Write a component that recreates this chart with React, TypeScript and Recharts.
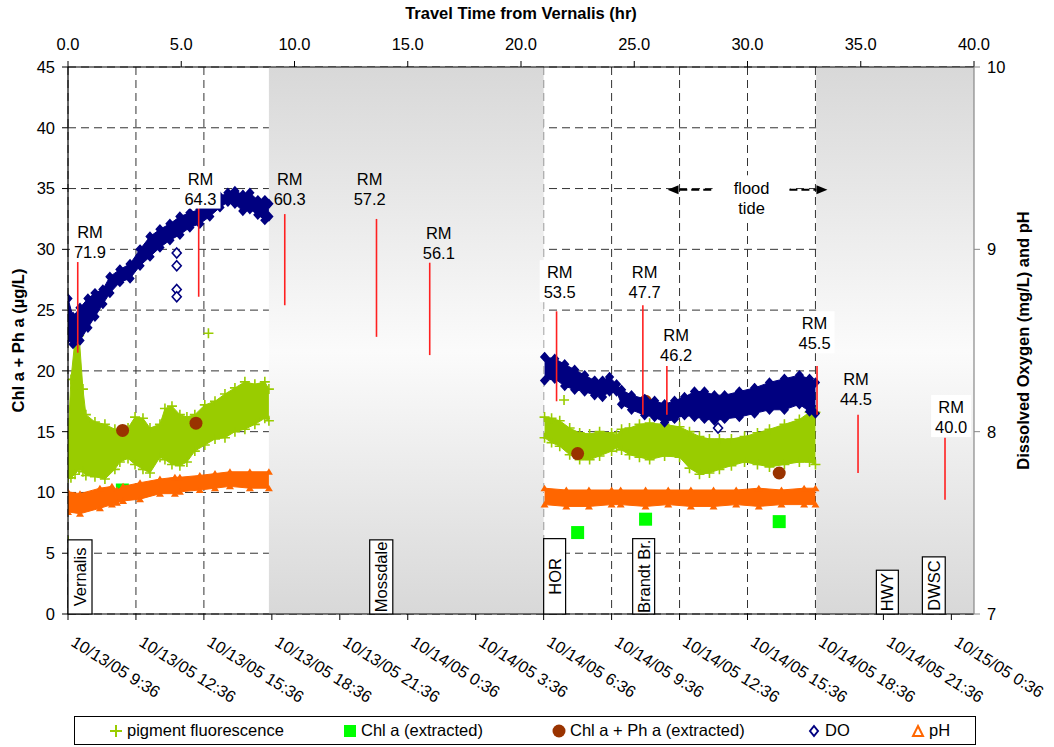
import React from 'react';
import {
  ComposedChart,
  Area,
  Scatter,
  XAxis,
  YAxis,
  CartesianGrid,
  ReferenceArea,
  ReferenceLine,
  ReferenceDot,
} from 'recharts';

// bottom axis: hours after 10/13/05 9:36, top axis: travel time from Vernalis (hr)
const dateLabels = [
  '10/13/05 9:36', '10/13/05 12:36', '10/13/05 15:36', '10/13/05 18:36', '10/13/05 21:36',
  '10/14/05 0:36', '10/14/05 3:36', '10/14/05 6:36', '10/14/05 9:36', '10/14/05 12:36',
  '10/14/05 15:36', '10/14/05 18:36', '10/14/05 21:36', '10/15/05 0:36',
];
const timeTicks = [0, 3, 6, 9, 12, 15, 18, 21, 24, 27, 30, 33, 36, 39];
const travelTicks = [0, 5, 10, 15, 20, 25, 30, 35, 40];
const chlTicks = [0, 5, 10, 15, 20, 25, 30, 35, 40, 45];
const doTicks = [7, 8, 9, 10];

// pigment fluorescence band [hr, low, high] (ug/L)
const fluorRun1 = [
  [0, 11.2, 14.4], [0.13, 11.2, 19.3], [0.31, 11.5, 22.6], [0.49, 11.9, 22.9], [0.66, 11.7, 18.5],
  [0.79, 11.4, 16.4], [1.19, 11.3, 15.8], [1.63, 11.1, 15.6], [2.07, 11.9, 15.2], [2.29, 12.5, 15.0],
  [2.65, 12.8, 15.3], [2.96, 12.3, 16.2], [3.31, 11.9, 16.1], [3.62, 11.6, 15.3], [4.06, 12.9, 15.6],
  [4.28, 12.7, 16.9], [4.59, 12.3, 17.1], [4.94, 12.2, 16.4], [5.25, 12.5, 16.2], [5.6, 13.4, 16.4],
  [6.04, 13.9, 17.2], [6.49, 14.4, 17.5], [6.93, 14.5, 18.1], [7.37, 15.0, 18.6], [7.81, 15.2, 19.1],
  [8.25, 15.6, 18.9], [8.69, 16.1, 19.1], [8.87, 15.9, 18.5],
];
const fluorRun2 = [
  [21.04, 14.5, 16.2], [21.35, 14.1, 16.1], [21.71, 13.8, 15.9], [22.15, 13.1, 15.3], [22.59, 12.7, 14.9],
  [23.03, 12.7, 14.8], [23.47, 13.0, 15.0], [24.0, 13.4, 14.9], [24.22, 13.7, 14.7], [24.44, 13.5, 15.2],
  [24.79, 13.1, 15.3], [25.23, 12.9, 15.6], [25.68, 12.7, 15.7], [26.34, 13.0, 15.6], [27.0, 12.9, 15.4],
  [27.44, 12.0, 15.0], [27.88, 11.5, 14.6], [28.32, 11.6, 14.4], [28.76, 11.9, 14.4], [29.29, 12.2, 14.4],
  [29.87, 12.5, 14.6], [30.44, 12.3, 14.9], [30.97, 12.1, 15.2], [31.63, 12.3, 15.6], [32.29, 12.5, 16.0],
  [32.74, 12.5, 16.6], [33.0, 12.3, 16.6],
];
const fluorStray = [[0, 6.0], [0.45, 23.3], [6.2, 23.1], [21.9, 17.6]];

// extracted samples [hr, ug/L]
const chlA = [[2.4, 10.2], [22.5, 6.7], [25.5, 7.8], [31.4, 7.6]];
const chlPhA = [[2.41, 15.1], [5.65, 15.7], [22.5, 13.2], [25.5, 17.5], [31.4, 11.6]];

// dissolved oxygen band [hr, low, high] (mg/L)
const doRun1 = [
  [0, 8.51, 8.73], [0.22, 8.48, 8.63], [0.53, 8.5, 8.68], [0.88, 8.57, 8.73], [1.19, 8.63, 8.76],
  [1.54, 8.7, 8.78], [1.85, 8.76, 8.85], [2.29, 8.82, 8.89], [2.74, 8.84, 8.92], [3.18, 8.91, 9.0],
  [3.62, 8.96, 9.07], [4.06, 9.01, 9.11], [4.5, 9.05, 9.14], [4.94, 9.08, 9.18], [5.38, 9.12, 9.2],
  [5.82, 9.14, 9.22], [6.26, 9.18, 9.27], [6.71, 9.23, 9.29], [7.06, 9.26, 9.31], [7.37, 9.25, 9.32],
  [7.72, 9.21, 9.3], [8.03, 9.22, 9.31], [8.38, 9.19, 9.27], [8.69, 9.16, 9.27], [8.87, 9.18, 9.25],
];
const doRun2 = [
  [21.04, 8.28, 8.41], [21.49, 8.29, 8.4], [21.93, 8.25, 8.37], [22.37, 8.23, 8.34], [22.81, 8.22, 8.31],
  [23.25, 8.2, 8.28], [23.6, 8.19, 8.28], [23.91, 8.22, 8.3], [24.22, 8.22, 8.26], [24.44, 8.15, 8.23],
  [24.88, 8.12, 8.2], [25.46, 8.09, 8.18], [25.9, 8.08, 8.17], [26.34, 8.05, 8.15], [26.78, 8.07, 8.17],
  [27.22, 8.09, 8.19], [27.66, 8.08, 8.22], [28.1, 8.07, 8.22], [28.54, 8.06, 8.2], [28.99, 8.07, 8.2],
  [29.64, 8.08, 8.22], [30.31, 8.1, 8.24], [30.97, 8.12, 8.27], [31.63, 8.12, 8.29], [32.29, 8.15, 8.31],
  [32.74, 8.11, 8.29], [33.0, 8.1, 8.27],
];
const doStray = [[4.8, 8.98], [4.8, 8.91], [4.8, 8.78], [4.8, 8.74], [28.7, 8.02]];

// pH band [hr, low, high]
const phRun1 = [
  [0, 7.56, 7.67], [0.53, 7.55, 7.66], [1.41, 7.58, 7.69], [1.94, 7.6, 7.7], [2.16, 7.61, 7.68],
  [2.43, 7.62, 7.7], [3.18, 7.63, 7.72], [4.06, 7.66, 7.74], [4.72, 7.66, 7.75], [4.94, 7.67, 7.75],
  [5.82, 7.68, 7.76], [6.49, 7.69, 7.77], [7.15, 7.7, 7.78], [8.03, 7.69, 7.78], [8.87, 7.69, 7.78],
];
const phRun2 = [
  [21.04, 7.6, 7.69], [22.0, 7.59, 7.68], [23.0, 7.59, 7.68], [24.0, 7.6, 7.68], [24.4, 7.6, 7.68],
  [25.5, 7.59, 7.68], [26.5, 7.6, 7.68], [27.5, 7.59, 7.68], [28.5, 7.59, 7.68], [29.5, 7.6, 7.68],
  [30.5, 7.59, 7.69], [31.5, 7.6, 7.68], [32.5, 7.6, 7.69], [33.0, 7.6, 7.69],
];

// shaded stretches of the run (hr)
const shaded = [[8.87, 21.0], [33.03, 40]];

// station boxes along the bottom
const sites = [
  { name: 'Vernalis', from: 0, to: 1.06, top: 6.1 },
  { name: 'Mossdale', from: 13.32, to: 14.34, top: 6.1 },
  { name: 'HOR', from: 21.0, to: 21.97, top: 6.2 },
  { name: 'Brandt Br.', from: 24.93, to: 25.9, top: 6.2 },
  { name: 'HWY', from: 35.69, to: 36.66, top: 3.6 },
  { name: 'DWSC', from: 37.72, to: 38.73, top: 4.7 },
];

// river mile markers
const rmMarks = [
  { rm: '71.9', hr: 0.43, top: 29.0, bottom: 21.5, lx: 0.97, ly: 30.6, box: true },
  { rm: '64.3', hr: 5.77, top: 33.7, bottom: 26.1, lx: 5.85, ly: 35.0, box: true },
  { rm: '60.3', hr: 9.57, top: 32.9, bottom: 25.4, lx: 9.79, ly: 35.0, box: false },
  { rm: '57.2', hr: 13.62, top: 32.5, bottom: 22.8, lx: 13.32, ly: 35.0, box: false },
  { rm: '56.1', hr: 15.97, top: 28.9, bottom: 21.3, lx: 16.37, ly: 30.5, box: false },
  { rm: '53.5', hr: 21.57, top: 24.9, bottom: 17.5, lx: 21.71, ly: 27.3, box: true },
  { rm: '47.7', hr: 25.38, top: 25.4, bottom: 16.4, lx: 25.46, ly: 27.3, box: true },
  { rm: '46.2', hr: 26.44, top: 20.4, bottom: 16.4, lx: 26.85, ly: 22.1, box: true },
  { rm: '45.5', hr: 33.07, top: 20.4, bottom: 16.4, lx: 32.96, ly: 23.1, box: true },
  { rm: '44.5', hr: 34.88, top: 16.4, bottom: 11.6, lx: 34.79, ly: 18.5, box: false },
  { rm: '40.0', hr: 38.72, top: 14.5, bottom: 9.4, lx: 38.99, ly: 16.2, box: true },
];

// flood tide arrows [from hr, to hr] at left-axis level
const floodArrows = [[28.4, 26.47], [31.85, 33.53]];
const floodLevel = 34.9;
const floodLabel = { hr: 30.18, y: 34.2 };

const GREEN = '#99CC00';
const LIME = '#00FF00';
const BROWN = '#993300';
const NAVY = '#000080';
const ORANGE = '#FF6600';
const RED = '#FF2020';
const FONT = '"Liberation Sans", Arial, sans-serif';
const FS = 16.5;

const toBand = (rows: number[][]) => rows.map(([hr, lo, hi]) => ({ hr, v: [lo, hi] }));
const toPts = (rows: number[][]) => rows.map(([hr, v]) => ({ hr, v }));
const edges = (rows: number[][]) => rows.flatMap(([hr, lo, hi]) => [{ hr, v: lo }, { hr, v: hi }]);

const Cross = (p: any) => (
  <path d={`M${p.cx - 5},${p.cy}h10M${p.cx},${p.cy - 5}v10`} stroke={GREEN} strokeWidth={1.6} />
);
const Diamond = (fill: string, s: number) => (p: any) => (
  <path
    d={`M${p.cx},${p.cy - s}L${p.cx + s * 0.9},${p.cy}L${p.cx},${p.cy + s}L${p.cx - s * 0.9},${p.cy}Z`}
    fill={fill}
    stroke={NAVY}
    strokeWidth={1.6}
  />
);
const Tri = (p: any) => (
  <path d={`M${p.cx},${p.cy - 3.5}L${p.cx + 4},${p.cy + 3}L${p.cx - 4},${p.cy + 3}Z`} fill={ORANGE} />
);
const Square = (p: any) => <rect x={p.cx - 6.5} y={p.cy - 6.5} width={13} height={13} fill={LIME} />;
const Dot = (p: any) => <circle cx={p.cx} cy={p.cy} r={6.5} fill={BROWN} />;

const TimeTick = (props: any) => {
  const { x, y, payload } = props;
  const label = dateLabels[Math.round(payload.value / 3)] ?? '';
  const tx = x + 2;
  const ty = y + 23;
  return (
    <text x={tx} y={ty} transform={`rotate(32 ${tx} ${ty})`} fontSize={FS} fill="#000" textAnchor="start">
      {label}
    </text>
  );
};

const rmLabel = (m: typeof rmMarks[number]) => (p: any) => (
  <g>
    {m.box && <rect x={p.cx - 20} y={p.cy - 22} width={40} height={42} fill="#fff" />}
    <text x={p.cx} y={p.cy - 4} textAnchor="middle" fontSize={FS} fill="#000">RM</text>
    <text x={p.cx} y={p.cy + 16} textAnchor="middle" fontSize={FS} fill="#000">{m.rm}</text>
  </g>
);

const arrowShape = (p: any) => {
  const { x1, y1, x2, y2 } = p;
  const dir = x2 > x1 ? 1 : -1;
  const base = x2 - dir * 11;
  return (
    <g>
      <line x1={x1} y1={y1} x2={base} y2={y2} stroke="#000" strokeWidth={2} strokeDasharray="8 4" />
      <path d={`M${x2},${y2}L${base},${y2 - 4.5}L${base},${y2 + 4.5}Z`} fill="#000" />
    </g>
  );
};

const siteShape = (name: string) => (p: any) => {
  const cx = p.x + p.width / 2;
  const cy = p.y + p.height / 2;
  return (
    <g>
      <rect x={p.x} y={p.y} width={p.width} height={p.height} fill="#fff" stroke="#000" strokeWidth={1.2} />
      <text
        x={cx}
        y={cy}
        transform={`rotate(-90 ${cx} ${cy})`}
        textAnchor="middle"
        dominantBaseline="central"
        fontSize={FS}
        fill="#000"
      >
        {name}
      </text>
    </g>
  );
};

const legendItems = [
  { label: 'pigment fluorescence', left: 34, icon: <path d="M1,7h12M7,1v12" stroke={GREEN} strokeWidth={2} /> },
  { label: 'Chl a (extracted)', left: 268, icon: <rect x={1} y={1} width={12} height={12} fill={LIME} /> },
  { label: 'Chl a + Ph a (extracted)', left: 477, icon: <circle cx={7} cy={7} r={6.5} fill={BROWN} /> },
  { label: 'DO', left: 732, icon: <path d="M7,2L11,7L7,12L3,7Z" fill="#fff" stroke={NAVY} strokeWidth={2} /> },
  { label: 'pH', left: 836, icon: <path d="M7,2L12,12L2,12Z" fill="#fff" stroke={ORANGE} strokeWidth={2} /> },
];

export default function App() {
  return (
    <div style={{ position: 'absolute', left: 0, top: 0, width: 1054, height: 747, background: '#fff', fontFamily: FONT }}>
      <ComposedChart width={1054} height={747} margin={{ top: 27, right: 0, bottom: 0, left: 0 }}>
        <defs>
          <linearGradient id="shadeGrad" x1="0" y1="0" x2="0" y2="1">
            <stop offset="0" stopColor="#d8d8d8" />
            <stop offset="0.52" stopColor="#fbfbfb" />
            <stop offset="1" stopColor="#d8d8d8" />
          </linearGradient>
        </defs>
        <CartesianGrid
          xAxisId="bottom"
          yAxisId="left"
          stroke="#333"
          strokeDasharray="8 5"
          verticalValues={timeTicks}
          horizontalValues={chlTicks}
        />
        {shaded.map(([a, b]) => (
          <ReferenceArea
            key={`shade-${a}`}
            xAxisId="bottom"
            yAxisId="left"
            x1={a}
            x2={b}
            y1={0}
            y2={45}
            fill="url(#shadeGrad)"
            fillOpacity={1}
            stroke="none"
            zIndex={-50}
          />
        ))}

        <Area xAxisId="bottom" yAxisId="left" data={toBand(fluorRun1)} dataKey="v" type="linear" stroke={GREEN} fill={GREEN} fillOpacity={1} dot={false} activeDot={false} isAnimationActive={false} zIndex={101} />
        <Area xAxisId="bottom" yAxisId="left" data={toBand(fluorRun2)} dataKey="v" type="linear" stroke={GREEN} fill={GREEN} fillOpacity={1} dot={false} activeDot={false} isAnimationActive={false} zIndex={101} />
        <Scatter xAxisId="bottom" yAxisId="left" data={[...edges(fluorRun1), ...edges(fluorRun2), ...toPts(fluorStray)]} dataKey="v" shape={Cross} isAnimationActive={false} zIndex={102} />
        <Scatter xAxisId="bottom" yAxisId="left" data={toPts(chlA)} dataKey="v" shape={Square} isAnimationActive={false} zIndex={103} />
        <Scatter xAxisId="bottom" yAxisId="left" data={toPts(chlPhA)} dataKey="v" shape={Dot} isAnimationActive={false} zIndex={104} />

        <Area xAxisId="bottom" yAxisId="right" data={toBand(doRun1)} dataKey="v" type="linear" stroke={NAVY} fill={NAVY} fillOpacity={1} dot={false} activeDot={false} isAnimationActive={false} zIndex={105} />
        <Area xAxisId="bottom" yAxisId="right" data={toBand(doRun2)} dataKey="v" type="linear" stroke={NAVY} fill={NAVY} fillOpacity={1} dot={false} activeDot={false} isAnimationActive={false} zIndex={105} />
        <Scatter xAxisId="bottom" yAxisId="right" data={[...edges(doRun1), ...edges(doRun2)]} dataKey="v" shape={Diamond(NAVY, 4)} isAnimationActive={false} zIndex={106} />
        <Scatter xAxisId="bottom" yAxisId="right" data={toPts(doStray)} dataKey="v" shape={Diamond('#fff', 5)} isAnimationActive={false} zIndex={106} />

        <Area xAxisId="bottom" yAxisId="right" data={toBand(phRun1)} dataKey="v" type="linear" stroke={ORANGE} fill={ORANGE} fillOpacity={1} dot={false} activeDot={false} isAnimationActive={false} zIndex={107} />
        <Area xAxisId="bottom" yAxisId="right" data={toBand(phRun2)} dataKey="v" type="linear" stroke={ORANGE} fill={ORANGE} fillOpacity={1} dot={false} activeDot={false} isAnimationActive={false} zIndex={107} />
        <Scatter xAxisId="bottom" yAxisId="right" data={[...edges(phRun1), ...edges(phRun2)]} dataKey="v" shape={Tri} isAnimationActive={false} zIndex={108} />

        {rmMarks.map((m) => (
          <ReferenceLine
            key={`rml-${m.rm}`}
            xAxisId="bottom"
            yAxisId="left"
            segment={[{ x: m.hr, y: m.top }, { x: m.hr, y: m.bottom }]}
            stroke={RED}
            strokeWidth={1.6}
            zIndex={1100}
          />
        ))}
        {rmMarks.map((m) => (
          <ReferenceDot
            key={`rmt-${m.rm}`}
            xAxisId="bottom"
            yAxisId="left"
            x={m.lx}
            y={m.ly}
            r={1}
            shape={rmLabel(m)}
            zIndex={1101}
          />
        ))}

        <ReferenceDot
          xAxisId="bottom"
          yAxisId="left"
          x={floodLabel.hr}
          y={floodLabel.y}
          r={1}
          zIndex={1102}
          shape={(p: any) => (
            <g>
              <rect x={p.cx - 39} y={p.cy - 23} width={78} height={46} fill="#fff" />
              <text x={p.cx} y={p.cy - 4} textAnchor="middle" fontSize={FS} fill="#000">flood</text>
              <text x={p.cx} y={p.cy + 16} textAnchor="middle" fontSize={FS} fill="#000">tide</text>
            </g>
          )}
        />
        {floodArrows.map(([a, b]) => (
          <ReferenceLine
            key={`flood-${a}`}
            xAxisId="bottom"
            yAxisId="left"
            segment={[{ x: a, y: floodLevel }, { x: b, y: floodLevel }]}
            shape={arrowShape}
            zIndex={1103}
          />
        ))}

        {sites.map((s) => (
          <ReferenceArea
            key={s.name}
            xAxisId="bottom"
            yAxisId="left"
            x1={s.from}
            x2={s.to}
            y1={0}
            y2={s.top}
            shape={siteShape(s.name)}
            zIndex={1104}
          />
        ))}

        <XAxis
          xAxisId="top"
          orientation="top"
          type="number"
          dataKey="hr"
          domain={[0, 40]}
          allowDataOverflow
          ticks={travelTicks}
          interval={0}
          height={40}
          tickFormatter={(v: number) => v.toFixed(1)}
          tick={{ fontSize: FS, fill: '#000' }}
          tickSize={6}
          tickMargin={11}
          axisLine={{ stroke: '#000', strokeWidth: 1.2 }}
          tickLine={{ stroke: '#000' }}
          label={(p: any) => {
            const vb = p.viewBox || { x: 68, y: 27, width: 906 };
            return (
              <text x={vb.x + vb.width / 2} y={vb.y - 8} textAnchor="middle" fontSize={FS} fontWeight="bold" fill="#000">
                Travel Time from Vernalis (hr)
              </text>
            );
          }}
        />
        <XAxis
          xAxisId="bottom"
          orientation="bottom"
          type="number"
          dataKey="hr"
          domain={[0, 40]}
          allowDataOverflow
          ticks={timeTicks}
          interval={0}
          height={133}
          tick={TimeTick}
          tickSize={6}
          axisLine={{ stroke: '#000', strokeWidth: 1.2 }}
          tickLine={{ stroke: '#000' }}
        />
        <YAxis
          yAxisId="left"
          orientation="left"
          type="number"
          domain={[0, 45]}
          allowDataOverflow
          ticks={chlTicks}
          interval={0}
          width={68}
          tick={{ fontSize: FS, fill: '#000' }}
          tickSize={6}
          tickMargin={7}
          axisLine={{ stroke: '#000', strokeWidth: 1.2 }}
          tickLine={{ stroke: '#000' }}
          label={(p: any) => {
            const vb = p.viewBox || { x: 0, y: 67, width: 68, height: 547 };
            const cx = vb.x + 18;
            const cy = vb.y + vb.height / 2;
            return (
              <text x={cx} y={cy} transform={`rotate(-90 ${cx} ${cy})`} textAnchor="middle" dominantBaseline="central" fontSize={FS} fontWeight="bold" fill="#000">
                Chl a + Ph a (µg/L)
              </text>
            );
          }}
        />
        <YAxis
          yAxisId="right"
          orientation="right"
          type="number"
          domain={[7, 10]}
          allowDataOverflow
          ticks={doTicks}
          interval={0}
          width={80}
          tick={{ fontSize: FS, fill: '#000' }}
          tickSize={6}
          tickMargin={7}
          axisLine={{ stroke: '#888', strokeWidth: 1.2 }}
          tickLine={{ stroke: '#888' }}
          label={(p: any) => {
            const vb = p.viewBox || { x: 974, y: 67, width: 80, height: 547 };
            const cx = vb.x + 49;
            const cy = vb.y + vb.height / 2;
            return (
              <text x={cx} y={cy} transform={`rotate(-90 ${cx} ${cy})`} textAnchor="middle" dominantBaseline="central" fontSize={FS} fontWeight="bold" fill="#000">
                Dissolved Oxygen (mg/L) and pH
              </text>
            );
          }}
        />
      </ComposedChart>

      <div
        style={{
          position: 'absolute',
          left: 74,
          top: 716,
          width: 900,
          height: 27,
          border: '1px solid #000',
          background: '#fff',
          fontSize: FS,
        }}
      >
        {legendItems.map((it) => (
          <div
            key={it.label}
            style={{ position: 'absolute', left: it.left, top: 0, height: 27, display: 'flex', alignItems: 'center', whiteSpace: 'nowrap' }}
          >
            <svg width={14} height={14} style={{ marginRight: 4 }}>{it.icon}</svg>
            <span>{it.label}</span>
          </div>
        ))}
      </div>
    </div>
  );
}
